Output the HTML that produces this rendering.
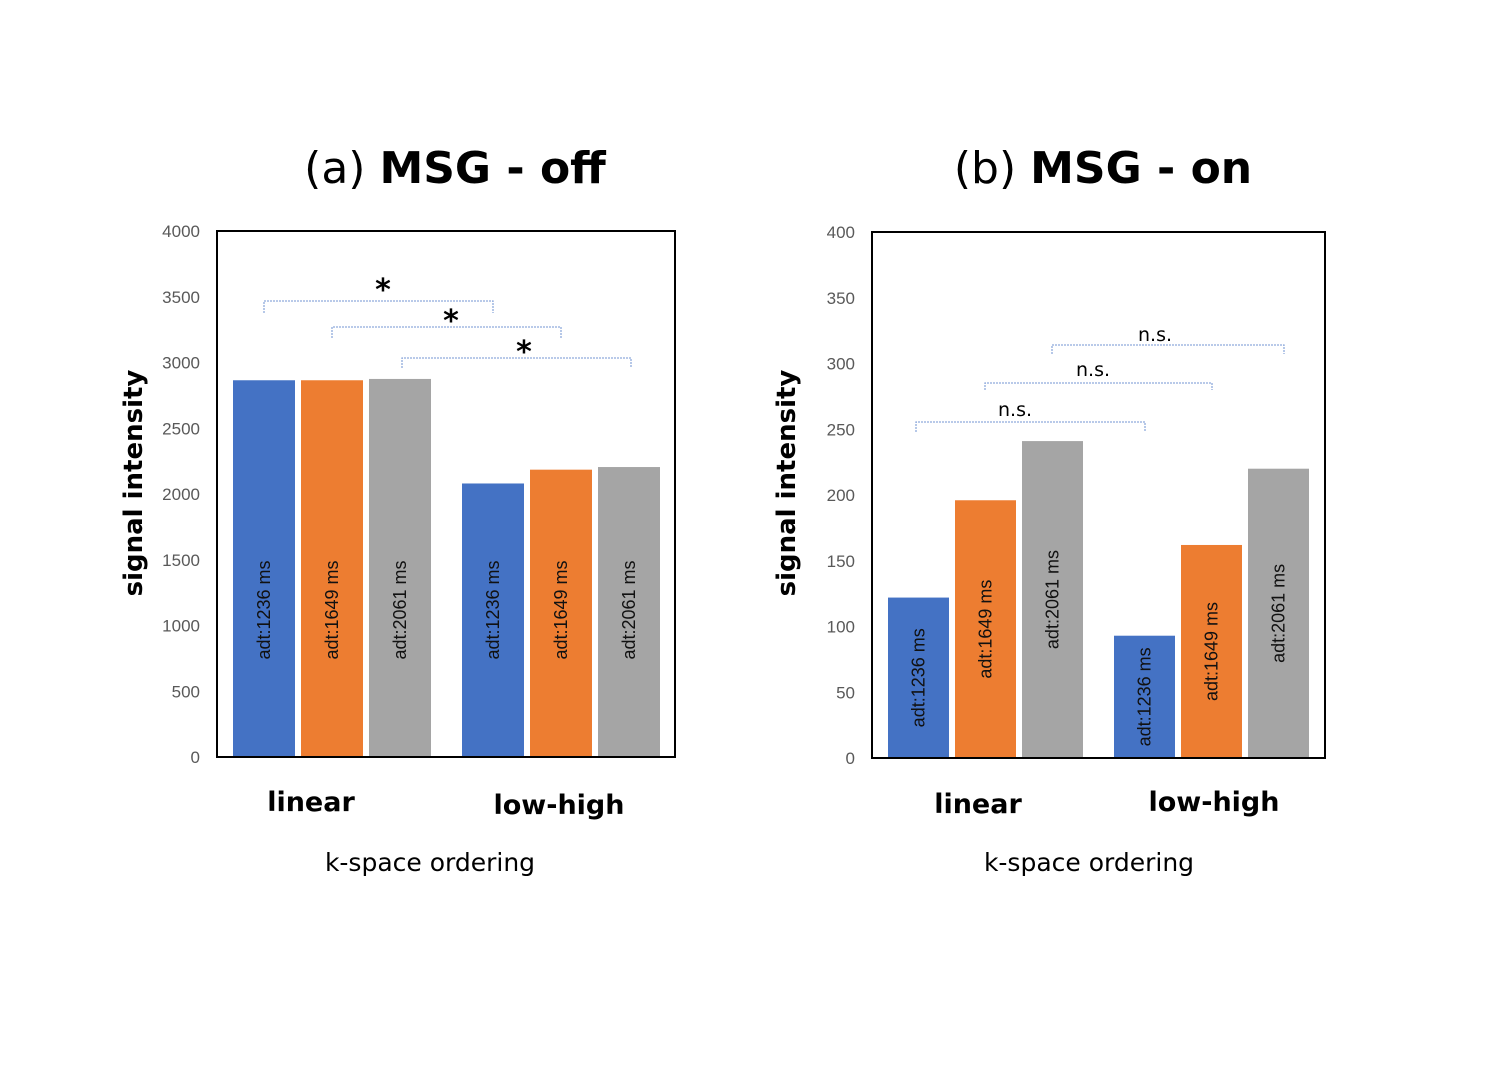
<!DOCTYPE html>
<html><head><meta charset="utf-8"><style>
body{margin:0;background:#fff;}
svg{display:block;font-family:"Liberation Sans",sans-serif;}
</style></head><body>
<svg id="s" width="1490" height="1069">
<g><text x="455" y="183" text-anchor="middle" font-size="44" font-family="DejaVu Sans, sans-serif"><tspan font-weight="normal">(a)  </tspan><tspan font-weight="bold">MSG - off</tspan></text></g>
<g><text x="1103" y="183" text-anchor="middle" font-size="44" font-family="DejaVu Sans, sans-serif"><tspan>(b)  </tspan><tspan font-weight="bold">MSG - on</tspan></text></g>
</svg>
<script>
const categories=["linear","low-high"];
const seriesNames=["adt:1236 ms","adt:1649 ms","adt:2061 ms"];
const colors=["#4472c4","#ed7d31","#a5a5a5"];
const valuesA=[[2865,2080],[2865,2185],[2875,2205]];
const valuesB=[[122,93],[196,162],[241,220]];
const ticksA=[0,500,1000,1500,2000,2500,3000,3500,4000];
const ticksB=[0,50,100,150,200,250,300,350,400];
const NS="http://www.w3.org/2000/svg";
const svg=document.getElementById('s');
function mk(t,a,p){const e=document.createElementNS(NS,t);for(const k in a)e.setAttribute(k,a[k]);(p||svg).appendChild(e);return e;}
function chart(cfg){
  const g=mk('g',{});
  
  
  const y=v=>cfg.y1-(v/cfg.max)*(cfg.y1-cfg.y0);
  cfg.ticks.forEach(t=>{const e=mk('text',{x:cfg.tx,y:y(t)+6,'text-anchor':'end','font-size':17,fill:'#595959'},g);e.textContent=t;
    
    });
  cfg.vals.forEach((ser,s)=>ser.forEach((v,c)=>{
    const x=cfg.x0+cfg.groupOff[c]+s*cfg.step;
    const r=mk('rect',{x:x,y:y(v),width:cfg.bw,height:cfg.y1-y(v),fill:colors[s]},g);
    
    
    const mid=cfg.fixedMid?cfg.fixedMid:(y(v)+cfg.y1)/2;
    const t=mk('text',{transform:`translate(${x+cfg.bw/2+6},${mid}) rotate(-90)`,'text-anchor':'middle','font-size':18,fill:'#111'},g);
    t.textContent=seriesNames[s];
    
    
  }));
  const f=mk('rect',{x:cfg.x0,y:cfg.y0,width:cfg.x1-cfg.x0,height:cfg.y1-cfg.y0,fill:'none',stroke:'#000','stroke-width':2},g);
  
  
  const at=mk('text',{transform:`translate(${cfg.ax+10},483) rotate(-90)`,'text-anchor':'middle','font-size':26,'font-weight':'bold','font-family':'DejaVu Sans, sans-serif'},g);
  at.textContent='signal intensity';
  
  
  categories.forEach((c,i)=>{const t=mk('text',{x:cfg.cx[i],y:cfg.cy[i]+10,'text-anchor':'middle','font-size':27,'font-weight':'bold','font-family':'DejaVu Sans, sans-serif'},g);t.textContent=c;
    
    });
  const xt=mk('text',{x:cfg.kx,y:871,'text-anchor':'middle','font-size':25,'font-family':'DejaVu Sans, sans-serif'},g);
  xt.textContent='k-space ordering';
  
  
  cfg.br.forEach(b=>{
    const p=mk('path',{d:`M${b[0]},${b[3]}V${b[2]}H${b[1]}V${b[3]}`,fill:'none',stroke:'#8faadc','stroke-width':1.3,'stroke-dasharray':'2,1'},g);
    
    
    const t=mk('text',{x:b[4],y:b[5],'text-anchor':'middle','font-size':cfg.sig=='*'?30:19,'font-weight':cfg.sig=='*'?'bold':'normal','font-family':'DejaVu Sans, sans-serif'},g);
    t.textContent=cfg.sig;
    
    
  });
}
chart({name:'chart-a',x0:217,x1:675,y0:231,y1:757,max:4000,ticks:ticksA,vals:valuesA,tx:200,groupOff:[16,245],step:68,bw:62,fixedMid:610,ax:132,cx:[311,559],cy:[801,804],kx:430,sig:'*',
 br:[[264,493,301,313,383,300],[332,561,327,338,451,331],[402,631,358,368,524,362]]});
chart({name:'chart-b',x0:872,x1:1325,y0:232,y1:758,max:400,ticks:ticksB,vals:valuesB,tx:855,groupOff:[16,242],step:67,bw:61,ax:785,cx:[978,1214],cy:[803,801],kx:1089,sig:'n.s.',
 br:[[916,1145,422,432,1015,416],[985,1212,383,390,1093,376],[1052,1284,345,354,1155,341]]});
</script>
</body></html>
